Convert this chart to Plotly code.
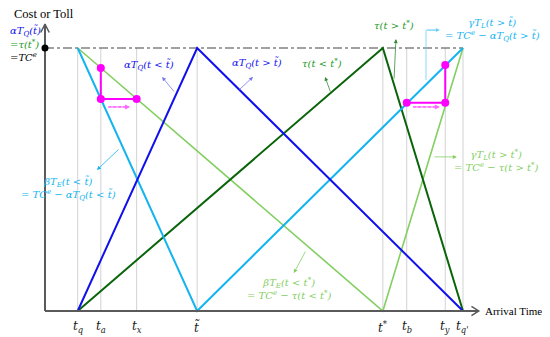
import plotly.graph_objects as go

# arrival times (arbitrary units, t_q = 0, t_q' = 100)
tick_times = [0, 6.0, 15.3, 31.0, 79.2, 85.4, 95.4, 100]
tick_text = ["t<sub>q</sub>", "t<sub>a</sub>", "t<sub>x</sub>", "t̃", "t<sup>*</sup>",
             "t<sub>b</sub>", "t<sub>y</sub>", "t<sub>q'</sub>"]

# cost curves (TC^e normalised to 1)
queue_x = [0, 31.0, 100]      # alpha*T_Q
queue_y = [0, 1, 0]
sched_x = [0, 31.0, 100]      # beta*T_E / gamma*T_L with queue
sched_y = [1, 0, 1]
toll_x = [0, 79.2, 100]       # tau
toll_y = [0, 1, 0]
sched2_x = [0, 79.2, 100]     # beta*T_E / gamma*T_L with toll
sched2_y = [1, 0, 1]

# magenta shift markers
left_pts_x = [6.0, 6.0, 15.3]
left_pts_y = [0.924, 0.806, 0.806]
right_pts_x = [95.4, 95.4, 85.4]
right_pts_y = [0.935, 0.792, 0.792]

TCE = 1.0
AX_X = -8.49           # where the cost axis sits
X_TIP, Y_TIP = 104.1, 1.091

CYAN = "#14B4F0"
BLUE = "#1010EE"
DGREEN = "#0A640A"
TGREEN = "#1E9A1E"
LGREEN = "#84CF62"
MAG = "#FF00FF"
AXIS = "#5A5A5A"

fig = go.Figure()

# grey guide lines at each time
gx, gy = [], []
for t in tick_times:
    gx += [t, t, None]
    gy += [0, TCE, None]
fig.add_trace(go.Scatter(x=gx, y=gy, mode="lines", line=dict(color="#D2D2D2", width=1),
                         hoverinfo="skip"))

# top dash-dot line at TC^e
fig.add_trace(go.Scatter(x=[AX_X, tick_times[-1]], y=[TCE, TCE], mode="lines",
                         line=dict(color="#444444", width=1.2, dash="dashdot"), hoverinfo="skip"))

fig.add_trace(go.Scatter(x=sched2_x, y=sched2_y, mode="lines", line=dict(color=LGREEN, width=1.6)))
fig.add_trace(go.Scatter(x=toll_x, y=toll_y, mode="lines", line=dict(color=DGREEN, width=2)))
fig.add_trace(go.Scatter(x=sched_x, y=sched_y, mode="lines", line=dict(color=CYAN, width=2)))
fig.add_trace(go.Scatter(x=queue_x, y=queue_y, mode="lines", line=dict(color=BLUE, width=2)))

for px_, py_ in [(left_pts_x, left_pts_y), (right_pts_x, right_pts_y)]:
    fig.add_trace(go.Scatter(x=px_, y=py_, mode="lines+markers",
                             line=dict(color=MAG, width=2), marker=dict(color=MAG, size=8)))

# dashed magenta shift arrows
for x0, x1 in [(7.9, 13.6), (87.0, 94.0)]:
    fig.add_trace(go.Scatter(x=[x0, x1 - 0.8], y=[0.776, 0.776], mode="lines",
                             line=dict(color="#FF66FF", width=1.5, dash="3px,2px"),
                             hoverinfo="skip"))
    fig.add_annotation(x=x1, y=0.776, ax=x0, ay=0.776, xref="x", yref="y", axref="x", ayref="y",
                       text="", showarrow=True, arrowhead=2, arrowsize=1, arrowwidth=1,
                       arrowcolor="#FF66FF", standoff=0)

# axes with open arrowheads
fig.add_trace(go.Scatter(x=[AX_X, AX_X, None, AX_X, X_TIP], y=[0, Y_TIP, None, 0, 0],
                         mode="lines", line=dict(color=AXIS, width=2), hoverinfo="skip"))
fig.add_trace(go.Scatter(x=[AX_X - 1.1, AX_X, AX_X + 1.1, None, X_TIP - 1.9, X_TIP, X_TIP - 1.9],
                         y=[Y_TIP - 0.032, Y_TIP, Y_TIP - 0.032, None, 0.018, 0, -0.018],
                         mode="lines", line=dict(color=AXIS, width=1.5), hoverinfo="skip"))
fig.add_trace(go.Scatter(x=[AX_X], y=[TCE], mode="markers",
                         marker=dict(color="black", size=7), hoverinfo="skip"))

MATH = dict(family="DejaVu Serif", size=10, style="italic")


def label(x, y, text, color, anchor="center", size=10):
    fig.add_annotation(x=x, y=y, xref="x", yref="y", text=text, showarrow=False,
                       xanchor=anchor, yanchor="middle", align="center",
                       font=dict(MATH, color=color, size=size))


def pointer(x, y, ax, ay, color):
    fig.add_annotation(x=x, y=y, ax=ax, ay=ay, xref="x", yref="y", axref="x", ayref="y",
                       text="", showarrow=True, arrowhead=2, arrowsize=1, arrowwidth=0.8,
                       arrowcolor=color, standoff=0)


# time labels under the axis
for t, txt in zip(tick_times, tick_text):
    label(t, -0.061, txt, "#222222", size=12)

label(-18.0, 1.0646, "αT<sub>Q</sub>(t̃)", BLUE, "left")
label(-18.0, 1.0152, "=τ(t<sup>*</sup>)", TGREEN, "left")
label(-18.0, 0.9658, "=TC<sup>e</sup>", "black", "left")

label(18.5, 0.935, "αT<sub>Q</sub>(t &lt; t̃)", BLUE)
pointer(21.9, 0.890, 25.3, 0.829, "#7777EE")
label(46.5, 0.943, "αT<sub>Q</sub>(t &gt; t̃)", BLUE)
pointer(45.5, 0.890, 41.6, 0.837, "#7777EE")
label(63.4, 0.943, "τ(t &lt; t<sup>*</sup>)", TGREEN)
pointer(64.2, 0.890, 65.7, 0.829, "#3A8A3A")
label(82.1, 1.087, "τ(t &gt; t<sup>*</sup>)", TGREEN)
pointer(82.6, 1.034, 82.1, 0.878, "#3A8A3A")

label(107.6, 1.072, "γT<sub>L</sub>(t &gt; t̃)<br>= TC<sup>e</sup> − αT<sub>Q</sub>(t &gt; t̃)", CYAN)
fig.add_trace(go.Scatter(x=[90.4, 90.4, 93.0], y=[0.878, 1.068, 1.068], mode="lines",
                         line=dict(color="#6FD0F5", width=0.8), hoverinfo="skip"))
pointer(94.0, 1.068, 90.4, 1.068, "#6FD0F5")

label(-2.5, 0.464, "βT<sub>E</sub>(t &lt; t̃)<br>= TC<sup>e</sup> − αT<sub>Q</sub>(t &lt; t̃)", CYAN)
pointer(5.0, 0.536, 11.0, 0.620, CYAN)

label(108.8, 0.574, "γT<sub>L</sub>(t &gt; t<sup>*</sup>)<br>= TC<sup>e</sup> − τ(t &gt; t<sup>*</sup>)", LGREEN)
pointer(98.4, 0.586, 92.2, 0.586, LGREEN)

label(55.1, 0.084, "βT<sub>E</sub>(t &lt; t<sup>*</sup>)<br>= TC<sup>e</sup> − τ(t &lt; t<sup>*</sup>)", LGREEN)
pointer(56.1, 0.144, 59.3, 0.232, LGREEN)

fig.add_annotation(x=-8.75, y=1.128, xref="x", yref="y", text="Cost or Toll", showarrow=False,
                   font=dict(family="Liberation Serif", size=12.5, color="black"))
fig.add_annotation(x=105.2, y=0, xref="x", yref="y", text="Arrival Time", showarrow=False,
                   xanchor="left", font=dict(family="Liberation Serif", size=11, color="black"))

# plot area fills the whole figure; the page body adds an 8px offset
fig.update_layout(
    width=550, height=337,
    margin=dict(l=0, r=0, t=0, b=0),
    plot_bgcolor="white", paper_bgcolor="white",
    showlegend=False,
)
fig.update_xaxes(range=[-18.09, 124.66], visible=False, automargin=False)
fig.update_yaxes(range=[-0.1293, 1.1521], visible=False, automargin=False)

fig.write_html("out.html")
